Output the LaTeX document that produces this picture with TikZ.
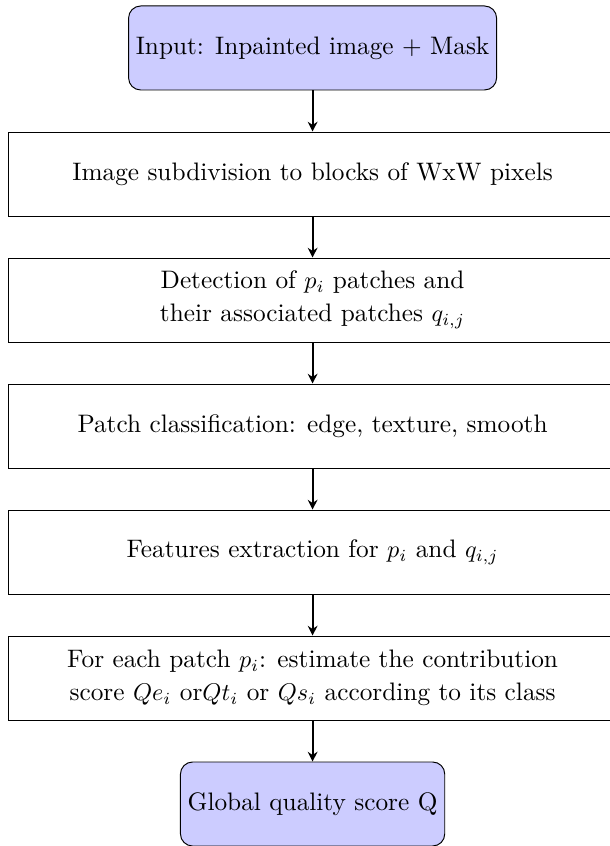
\documentclass[tikz,border=0pt]{standalone}
\usepackage{amsmath, amssymb}
\usepackage{xcolor}
\usepackage{tikz}
\usetikzlibrary{shapes.geometric, arrows.meta, positioning}
\definecolor{termblue}{RGB}{204, 204, 255}

\begin{document}
\begin{tikzpicture}[
    font=\fontsize{10.45pt}{13.6pt}\selectfont,
    terminal/.style={rectangle, draw=black, fill=termblue, rounded corners=5pt,
                     minimum height=1.22cm, inner sep=3pt, align=center},
    process/.style={rectangle, draw=black, minimum height=1.22cm,
                    minimum width=8.82cm, align=center},
    flow/.style={-{Stealth[length=4pt, width=4pt]}, thick}
]
\useasboundingbox (-4.54, 0.697) rectangle (4.31, -11.59);

% Boxes
\node[terminal] (input) at (0, 0) {Input: Inpainted image + Mask};
\node[process] (blocks) at (0, -1.83) {Image subdivision to blocks of WxW pixels};
\node[process] (detect) at (0, -3.66) {Detection of $p_i$ patches and\\ their associated patches $q_{i,j}$};
\node[process] (classify) at (0, -5.49) {Patch classification: edge, texture, smooth};
\node[process] (features) at (0, -7.32) {Features extraction for $p_i$ and $q_{i,j}$};
\node[process] (score) at (0, -9.15) {For each patch $p_i$: estimate the contribution\\ score $Qe_i$ or$Qt_i$ or $Qs_i$ according to its class};
\node[terminal] (quality) at (0, -10.98) {Global quality score Q};

% Arrows
\draw[flow] (input) -- (blocks);
\draw[flow] (blocks) -- (detect);
\draw[flow] (detect) -- (classify);
\draw[flow] (classify) -- (features);
\draw[flow] (features) -- (score);
\draw[flow] (score) -- (quality);

\end{tikzpicture}
\end{document}
